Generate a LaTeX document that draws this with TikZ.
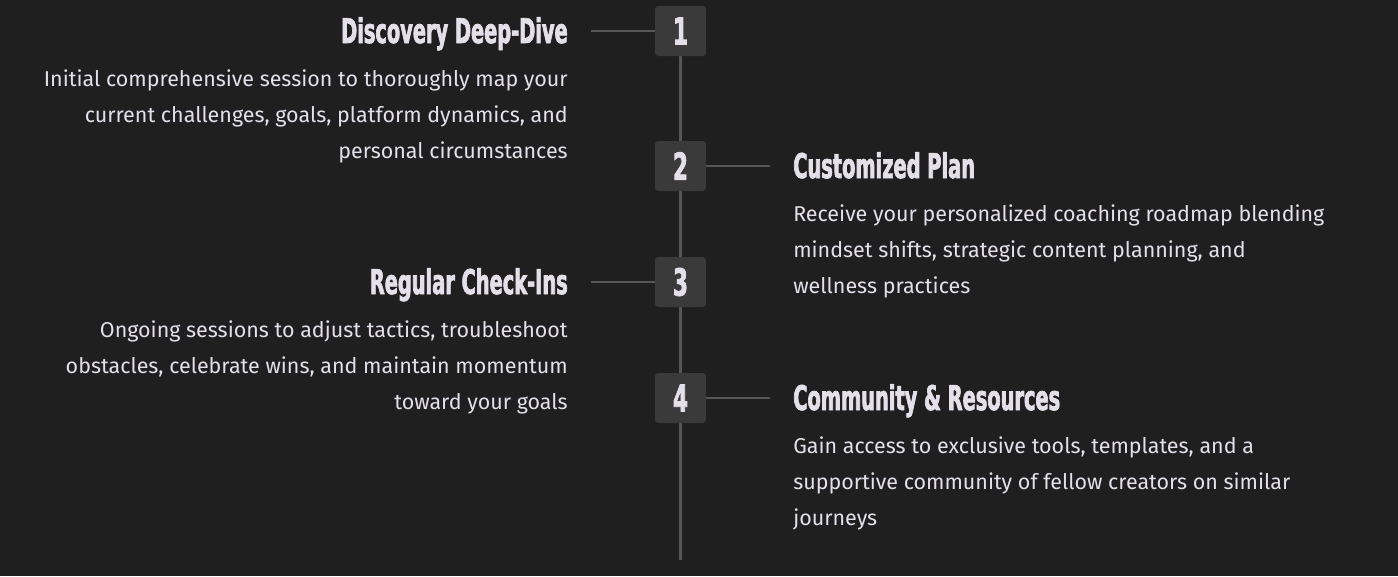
\documentclass[tikz,border=0pt]{standalone}
\usepackage{fontspec}
\setmainfont{Fira Sans}
\newfontfamily\headfont[FakeStretch=0.57, FakeBold=2]{DejaVu Sans}
\usetikzlibrary{positioning, backgrounds}
\definecolor{bgcol}{RGB}{31,31,31}
\definecolor{boxcol}{RGB}{58,58,58}
\definecolor{linecol}{RGB}{86,86,86}
\definecolor{txtcol}{RGB}{228,224,234}

\begin{document}
\begin{tikzpicture}[
    x=0.75pt, y=-0.75pt,
    numbox/.style={fill=boxcol, rounded corners=2.25pt, minimum width=38pt, minimum height=37.5pt, inner sep=0pt, text=txtcol, font=\headfont\bfseries\fontsize{28}{28}\selectfont},
    steptitle/.style={inner sep=0pt, text=txtcol, font=\headfont\bfseries\fontsize{25.5}{26}\selectfont},
    stepbody/.style={inner sep=0pt, text=txtcol, font=\fontsize{16.1}{27}\selectfont},
    link/.style={draw=linecol, line width=2.2pt},
]
\useasboundingbox (0,0) rectangle (1398,576);

\node[numbox] (n1) at (680.5,31) {1};
\node[numbox] (n2) at (680.5,166) {2};
\node[numbox] (n3) at (680.5,282) {3};
\node[numbox] (n4) at (680.5,398) {4};

% base anchor sits on the last line
\node[steptitle, anchor=base east] (t1) at (568,43) {Discovery Deep-Dive};
\node[stepbody, anchor=base east, align=right] (b1) at (568,158.7) {Initial comprehensive session to thoroughly map your\\current challenges, goals, platform dynamics, and\\personal circumstances};

\node[steptitle, anchor=base west] (t2) at (793,178) {Customized Plan};
\node[stepbody, anchor=base west, align=left] (b2) at (793,293.7) {Receive your personalized coaching roadmap blending\\mindset shifts, strategic content planning, and\\wellness practices};

\node[steptitle, anchor=base east] (t3) at (568,294) {Regular Check-Ins};
\node[stepbody, anchor=base east, align=right] (b3) at (568,409.7) {Ongoing sessions to adjust tactics, troubleshoot\\obstacles, celebrate wins, and maintain momentum\\toward your goals};

\node[steptitle, anchor=base west] (t4) at (793,410) {Community \& Resources};
\node[stepbody, anchor=base west, align=left] (b4) at (793,525.7) {Gain access to exclusive tools, templates, and a\\supportive community of fellow creators on similar\\journeys};

\coordinate (c1) at (591,31);
\coordinate (c2) at (770,166);
\coordinate (c3) at (591,282);
\coordinate (c4) at (770,398);
\coordinate (lineend) at (680.5,560);

\draw[link] (c1) -- (n1);
\draw[link] (n2) -- (c2);
\draw[link] (c3) -- (n3);
\draw[link] (n4) -- (c4);

\begin{scope}[on background layer]
\fill[bgcol] (0,0) rectangle (1398,576);
\draw[link] (n1.center) -- (lineend);
\end{scope}

\end{tikzpicture}
\end{document}
